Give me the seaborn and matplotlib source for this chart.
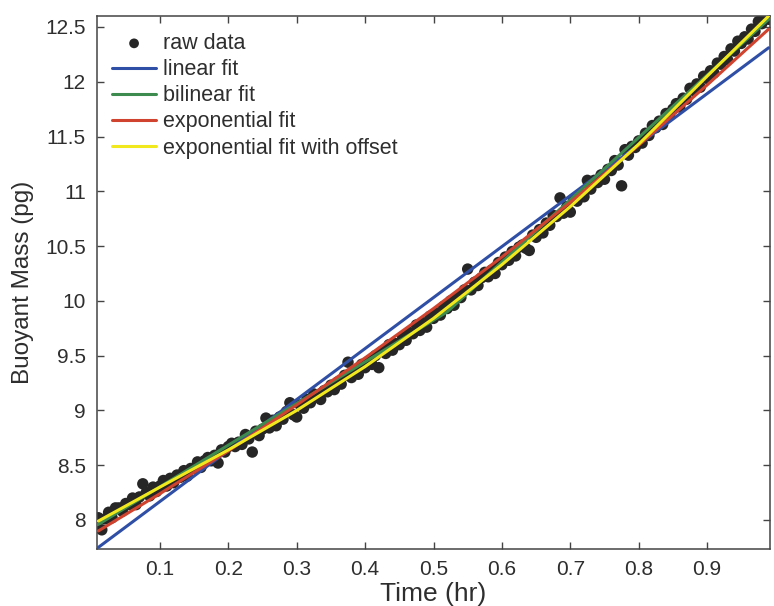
import matplotlib
matplotlib.use("Agg")
import matplotlib.pyplot as plt
import seaborn as sns
import pandas as pd

# ---------------- data ----------------
time_hr = [
    0.010, 0.015, 0.020, 0.025, 0.030, 0.035, 0.040, 0.045, 0.050, 0.055,
    0.060, 0.065, 0.070, 0.075, 0.080, 0.085, 0.090, 0.095, 0.100, 0.105,
    0.110, 0.115, 0.120, 0.125, 0.130, 0.135, 0.140, 0.145, 0.150, 0.155,
    0.160, 0.165, 0.170, 0.175, 0.180, 0.185, 0.190, 0.195, 0.200, 0.205,
    0.210, 0.215, 0.220, 0.225, 0.230, 0.235, 0.240, 0.245, 0.250, 0.255,
    0.260, 0.265, 0.270, 0.275, 0.280, 0.285, 0.290, 0.295, 0.300, 0.305,
    0.310, 0.315, 0.320, 0.325, 0.330, 0.335, 0.340, 0.345, 0.350, 0.355,
    0.360, 0.365, 0.370, 0.375, 0.380, 0.385, 0.390, 0.395, 0.400, 0.405,
    0.410, 0.415, 0.420, 0.425, 0.430, 0.435, 0.440, 0.445, 0.450, 0.455,
    0.460, 0.465, 0.470, 0.475, 0.480, 0.485, 0.490, 0.495, 0.500, 0.505,
    0.510, 0.515, 0.520, 0.525, 0.530, 0.535, 0.540, 0.545, 0.550, 0.555,
    0.560, 0.565, 0.570, 0.575, 0.580, 0.585, 0.590, 0.595, 0.600, 0.605,
    0.610, 0.615, 0.620, 0.625, 0.630, 0.635, 0.640, 0.645, 0.650, 0.655,
    0.660, 0.665, 0.670, 0.675, 0.680, 0.685, 0.690, 0.695, 0.700, 0.705,
    0.710, 0.715, 0.720, 0.725, 0.730, 0.735, 0.740, 0.745, 0.750, 0.755,
    0.760, 0.765, 0.770, 0.775, 0.780, 0.785, 0.790, 0.795, 0.800, 0.805,
    0.810, 0.815, 0.820, 0.825, 0.830, 0.835, 0.840, 0.845, 0.850, 0.855,
    0.860, 0.865, 0.870, 0.875, 0.880, 0.885, 0.890, 0.895, 0.900, 0.905,
    0.910, 0.915, 0.920, 0.925, 0.930, 0.935, 0.940, 0.945, 0.950, 0.955,
    0.960, 0.965, 0.970, 0.975, 0.980, 0.985, 0.990,
]
mass_pg = [
    8.02, 7.91, 8.01, 8.07, 8.02, 8.11, 8.11, 8.08, 8.15, 8.14,
    8.20, 8.14, 8.21, 8.33, 8.25, 8.22, 8.30, 8.26, 8.31, 8.36,
    8.31, 8.38, 8.34, 8.41, 8.39, 8.45, 8.40, 8.47, 8.47, 8.53,
    8.48, 8.54, 8.57, 8.54, 8.59, 8.52, 8.64, 8.62, 8.67, 8.70,
    8.67, 8.71, 8.69, 8.78, 8.74, 8.62, 8.81, 8.77, 8.83, 8.93,
    8.84, 8.91, 8.86, 8.94, 8.92, 8.99, 9.07, 8.96, 8.94, 9.05,
    9.02, 9.10, 9.07, 9.15, 9.13, 9.10, 9.18, 9.17, 9.23, 9.19,
    9.26, 9.24, 9.32, 9.44, 9.30, 9.36, 9.33, 9.42, 9.39, 9.45,
    9.42, 9.50, 9.39, 9.54, 9.52, 9.60, 9.55, 9.61, 9.60, 9.67,
    9.64, 9.71, 9.70, 9.78, 9.73, 9.80, 9.76, 9.86, 9.84, 9.89,
    9.87, 9.95, 9.93, 10.00, 9.96, 10.04, 10.03, 10.10, 10.29, 10.10,
    10.17, 10.14, 10.21, 10.26, 10.22, 10.28, 10.25, 10.35, 10.33, 10.40,
    10.37, 10.45, 10.41, 10.49, 10.51, 10.48, 10.46, 10.60, 10.58, 10.65,
    10.62, 10.71, 10.69, 10.78, 10.77, 10.94, 10.80, 10.86, 10.81, 10.93,
    10.91, 10.97, 10.95, 11.10, 11.02, 11.10, 11.08, 11.15, 11.11, 11.20,
    11.19, 11.28, 11.24, 11.05, 11.38, 11.33, 11.41, 11.40, 11.46, 11.44,
    11.53, 11.51, 11.60, 11.58, 11.64, 11.61, 11.71, 11.69, 11.75, 11.80,
    11.77, 11.85, 11.84, 11.94, 11.92, 11.98, 11.95, 12.05, 12.03, 12.10,
    12.08, 12.17, 12.16, 12.23, 12.20, 12.30, 12.28, 12.37, 12.35, 12.41,
    12.39, 12.48, 12.46, 12.55, 12.53, 12.59, 12.57,
]

# fitted curves, values
linear_t = [0.01, 0.99]
linear_m = [7.75, 12.31]

bilinear_t = [0.01, 0.52, 0.99]
bilinear_m = [7.96, 9.90, 12.57]

exp_t = [0.01, 0.10, 0.20, 0.30, 0.40, 0.50, 0.60, 0.70, 0.80, 0.90, 0.99]
exp_m = [7.90, 8.24, 8.63, 9.05, 9.48, 9.93, 10.40, 10.90, 11.42, 11.97, 12.48]

expoff_t = [0.01, 0.10, 0.20, 0.30, 0.40, 0.50, 0.60, 0.70, 0.80, 0.90, 0.99]
expoff_m = [7.99, 8.30, 8.64, 9.00, 9.40, 9.84, 10.33, 10.86, 11.43, 12.05, 12.60]

x_ticks = [0.1, 0.2, 0.3, 0.4, 0.5, 0.6, 0.7, 0.8, 0.9]
x_tick_labels = ["0.1", "0.2", "0.3", "0.4", "0.5", "0.6", "0.7", "0.8", "0.9"]
y_ticks = [8, 8.5, 9, 9.5, 10, 10.5, 11, 11.5, 12, 12.5]
y_tick_labels = ["8", "8.5", "9", "9.5", "10", "10.5", "11", "11.5", "12", "12.5"]

# ---------------- style ----------------
sns.set_style("ticks")
plt.rcParams["font.family"] = ["Liberation Sans", "DejaVu Sans"]
TXT = "#2e2e2e"

fig = plt.figure(figsize=(7.74, 6.06), dpi=100)
ax = fig.add_axes([97 / 774, 1 - 549 / 606, (770 - 97) / 774, (549 - 16) / 606])

raw_df = pd.DataFrame({"t": time_hr, "m": mass_pg})
sns.scatterplot(data=raw_df, x="t", y="m", ax=ax, color="#262626", s=68,
                edgecolor="none", linewidth=0, label="raw data", zorder=2)

fits = [
    (linear_t, linear_m, "#2F4FA6", "linear fit"),
    (bilinear_t, bilinear_m, "#3E8B50", "bilinear fit"),
    (exp_t, exp_m, "#D0432E", "exponential fit"),
    (expoff_t, expoff_m, "#F1E91E", "exponential fit with offset"),
]
for i, (tt, mm, col, lab) in enumerate(fits):
    df = pd.DataFrame({"t": tt, "m": mm})
    sns.lineplot(data=df, x="t", y="m", ax=ax, color=col, linewidth=2.2,
                 label=lab, zorder=3 + i, sort=True, estimator=None)

ax.set_xlim(0.008, 0.992)
ax.set_ylim(7.735, 12.6)
ax.set_xticks(x_ticks)
ax.set_xticklabels(x_tick_labels)
ax.set_yticks(y_ticks)
ax.set_yticklabels(y_tick_labels)

ax.tick_params(direction="in", length=5, width=1, top=True, right=True,
               labelsize=15, colors="#444444", labelcolor=TXT, pad=8)
for sp in ax.spines.values():
    sp.set_visible(True)
    sp.set_color("#444444")
    sp.set_linewidth(1.1)

ax.set_xlabel("Time (hr)", fontsize=19, color=TXT, labelpad=2)
ax.set_ylabel("Buoyant Mass (pg)", fontsize=17.5, color=TXT, labelpad=8)

leg = ax.legend(loc="upper left", bbox_to_anchor=(15 / 673, 1 - 17 / 533),
                frameon=False, fontsize=15.5, handlelength=2.05,
                handletextpad=0.3, labelspacing=0.24, borderpad=0,
                borderaxespad=0, markerscale=0.85)
for t in leg.get_texts():
    t.set_color(TXT)

fig.savefig("out.png", dpi=100)
